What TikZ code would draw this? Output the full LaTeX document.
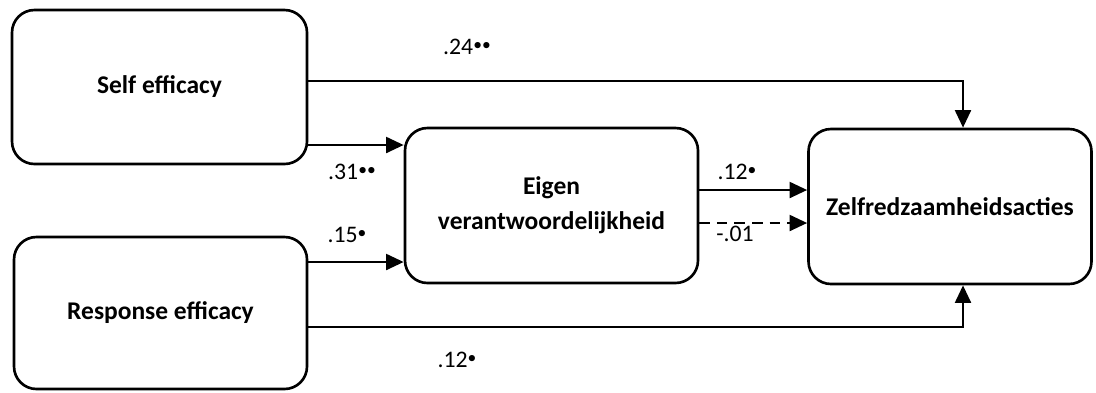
\documentclass[tikz,border=0pt]{standalone}
\usepackage{fontspec}
\setmainfont{Carlito}
\usetikzlibrary{arrows.meta}

\tikzset{
	box/.style={draw, line width=1.5pt, rounded corners=0.45cm, align=center,
		font=\fontsize{14.5}{20}\selectfont\bfseries},
	coef/.style={font=\fontsize{13.5}{15}\selectfont, inner sep=0pt}
}
\newcommand{\sig}[1]{\raisebox{0.4ex}{\fontsize{10}{10}\selectfont #1}}

\begin{document}
\begin{tikzpicture}[>={Triangle[length=10pt,width=9pt]}, line width=1.5pt]

	\useasboundingbox (0,0) rectangle (21.92,-7.84);

	\node [box, minimum width=5.9cm, minimum height=3.08cm] (self) at (3.19,-1.74) {Self efficacy};
	\node [box, minimum width=5.86cm, minimum height=3.04cm] (resp) at (3.21,-6.26) {Response efficacy};
	\node [box, minimum width=5.86cm, minimum height=3.1cm] (eigen) at (11.03,-4.11) {Eigen\\verantwoordelijkheid};
	\node [box, minimum width=5.66cm, minimum height=3.1cm] (zelf) at (19.0,-4.13) {Zelfredzaamheidsacties};

	\coordinate (s0) at ([yshift=0.12cm]self.east);
	\coordinate (s1) at ([yshift=-1.16cm]self.east);
	\coordinate (r1) at ([yshift=1.02cm]resp.east);
	\coordinate (r0) at ([yshift=-0.28cm]resp.east);
	\coordinate (e1) at ([yshift=0.31cm]eigen.east);
	\coordinate (e2) at ([yshift=-0.35cm]eigen.east);

	\draw [->] (s0) -| ([xshift=0.26cm]zelf.north);
	\draw [->] (s1) -- (s1 -| eigen.west);
	\draw [->] (r1) -- (r1 -| eigen.west);
	\draw [->] (r0) -| ([xshift=0.26cm]zelf.south);
	\draw [->] (e1) -- (e1 -| zelf.west);
	\draw [->, dashed, dash pattern=on 6pt off 4pt] (e2) -- (e2 -| zelf.west);

	\node [coef] (c1) at (9.34,-0.94) {.24\sig{••}};
	\node [coef] (c2) at (7.04,-3.44) {.31\sig{••}};
	\node [coef] (c3) at (6.94,-4.70) {.15\sig{•}};
	\node [coef] (c4) at (14.74,-3.44) {.12\sig{•}};
	\node [coef] (c5) at (14.70,-4.68) {-.01};
	\node [coef] (c6) at (9.14,-7.20) {.12\sig{•}};

\end{tikzpicture}
\end{document}
